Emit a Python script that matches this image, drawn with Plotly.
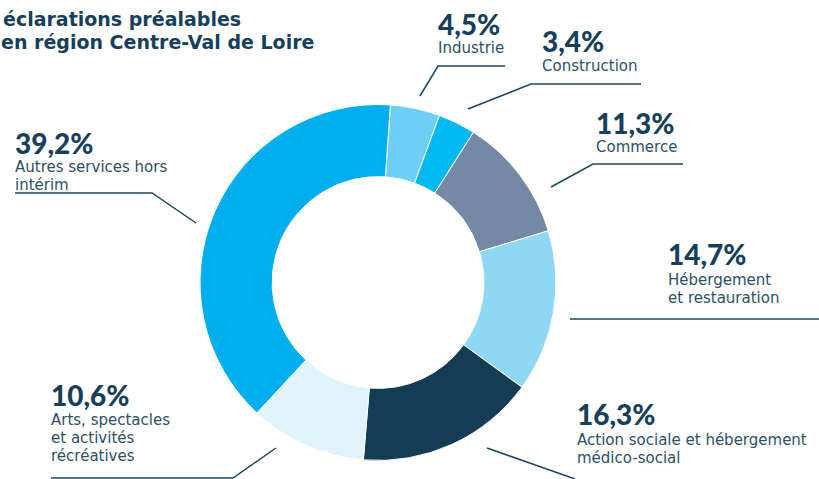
import plotly.graph_objects as go

W, H = 819, 479

categories = [["Industrie"], ["Construction"], ["Commerce"],
              ["Hébergement", "et restauration"],
              ["Action sociale et hébergement", "médico-social"],
              ["Arts, spectacles", "et activités", "récréatives"],
              ["Autres services hors", "intérim"]]
values = [4.5, 3.4, 11.3, 14.7, 16.3, 10.6, 39.2]
pct_labels = ["4,5%", "3,4%", "11,3%", "14,7%", "16,3%", "10,6%", "39,2%"]
colors = ["#6dcff6", "#00b9f1", "#7389a5", "#8fd8f5", "#143c55", "#e0f3fb", "#00aeef"]
title_lines = ["éclarations préalables", "en région Centre-Val de Loire"]

NAVY = "#173f5b"
LABEL = "#2e5068"
LINE = "#1d4660"

def px(x):
    return x / W

def py(y):
    return 1 - y / H

# centre (378, 282.5), radius 178
cx, cy, r = 378, 282.5, 178

fig = go.Figure(go.Pie(
    values=values,
    labels=[" ".join(c) for c in categories],
    marker=dict(colors=colors, line=dict(color="white", width=1)),
    hole=0.595,
    sort=False,
    direction="clockwise",
    rotation=4,
    textinfo="none",
    showlegend=False,
    domain=dict(x=[px(cx - r), px(cx + r)], y=[py(cy + r), py(cy - r)]),
))

# label placement: (x, pct_baseline, first_label_baseline)
positions = [
    (437, 33, 52),
    (541, 50, 70),
    (595, 132, 151),
    (667, 263, 284),
    (576, 423, 444),
    (50, 404, 424),
    (14, 152, 171),
]
LSP = 18

annotations = []

def add_text(x, baseline, text, size, family, color, weight=400):
    annotations.append(dict(
        x=px(x), y=py(baseline - round(size * 0.95)), xref="paper", yref="paper",
        xanchor="left", yanchor="top", text=text, showarrow=False, align="left",
        borderpad=0, font=dict(family=family, size=size, color=color, weight=weight),
    ))

for (x, pb, lb), p, lines in zip(positions, pct_labels, categories):
    add_text(x, pb, p, 28, "Lato", NAVY, 900)
    for i, line in enumerate(lines):
        add_text(x, lb + i * LSP, line, 15, "DejaVu Sans", LABEL)

add_text(2, 25, title_lines[0], 19, "DejaVu Sans", NAVY, 700)
add_text(0, 48, title_lines[1], 19, "DejaVu Sans", NAVY, 700)

leader_lines = [
    [(505, 66), (438, 66), (420, 96)],
    [(641, 84), (531, 84), (468, 109)],
    [(683, 164), (593, 164), (551, 187)],
    [(819, 319), (570, 319)],
    [(487, 448), (575, 479)],
    [(51, 478), (233, 478), (276, 448)],
    [(15, 193), (152, 193), (196, 223)],
]
shapes = []
for pts in leader_lines:
    path = "M " + " L ".join(f"{px(a)},{py(b)}" for a, b in pts)
    shapes.append(dict(type="path", path=path, xref="paper", yref="paper",
                       line=dict(color=LINE, width=1.5)))

fig.update_layout(
    width=W, height=H,
    margin=dict(l=0, r=0, t=0, b=0),
    paper_bgcolor="white", plot_bgcolor="white",
    annotations=annotations, shapes=shapes,
)

fig.write_html("out.html", config={"displayModeBar": False},
               post_script="document.body.style.margin='0px';")
